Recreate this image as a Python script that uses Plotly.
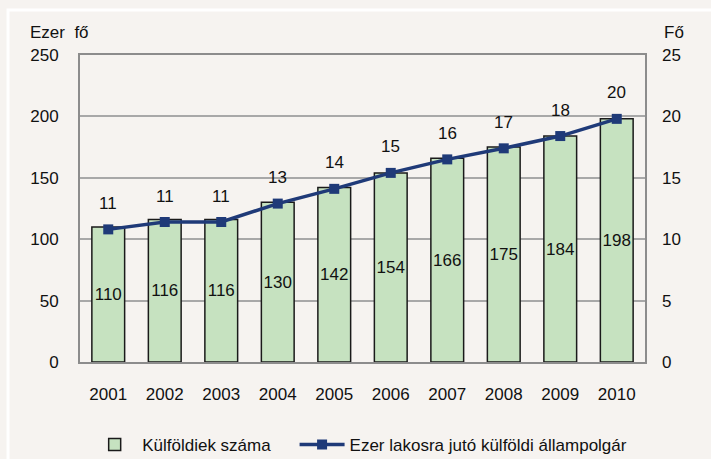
import plotly.graph_objects as go

years = ["2001", "2002", "2003", "2004", "2005", "2006", "2007", "2008", "2009", "2010"]
foreigners = [110, 116, 116, 130, 142, 154, 166, 175, 184, 198]
per_thousand = [10.8, 11.4, 11.4, 12.9, 14.1, 15.4, 16.5, 17.4, 18.4, 19.8]
per_thousand_labels = ["11", "11", "11", "13", "14", "15", "16", "17", "18", "20"]
left_ticks = [0, 50, 100, 150, 200, 250]
right_ticks = [0, 5, 10, 15, 20, 25]

FONT = "Liberation Sans, Arial, sans-serif"
FS = 17
BG = "#f6f3f0"

fig = go.Figure()
fig.add_trace(go.Bar(
    x=years, y=foreigners, name="Külföldiek száma\u00a0\u00a0\u00a0\u00a0",
    marker=dict(color="#c6e2c0", line=dict(color="#1a1a1a", width=1.5)),
    text=[str(v) for v in foreigners], textposition="inside", textangle=0,
    insidetextanchor="middle", constraintext="none",
    textfont=dict(family=FONT, size=FS, color="#111111"),
    yaxis="y",
))
fig.add_trace(go.Scatter(
    x=years, y=per_thousand, name="Ezer lakosra jutó külföldi állampolgár",
    mode="lines+markers",
    line=dict(color="#1f3a78", width=3.5),
    marker=dict(symbol="square", size=10, color="#1f3a78"),
    yaxis="y2",
))

annotations = []
# category axis: annotation x uses the category's serial number
for i, (y, t) in enumerate(zip(per_thousand, per_thousand_labels)):
    annotations.append(dict(x=i, y=y, xref="x", yref="y2", text=t, showarrow=False,
                            yshift=26, font=dict(family=FONT, size=FS, color="#111111")))
annotations.append(dict(x=-0.092, y=1.072, xref="paper", yref="paper", text="Ezer  fő",
                        showarrow=False, xanchor="left", yanchor="middle",
                        font=dict(family=FONT, size=FS, color="#111111")))
annotations.append(dict(x=1.030, y=1.072, xref="paper", yref="paper", text="Fő",
                        showarrow=False, xanchor="left", yanchor="middle",
                        font=dict(family=FONT, size=FS, color="#111111")))

fig.update_layout(
    width=711, height=459,
    margin=dict(l=80, r=66, t=55, b=97),
    paper_bgcolor=BG, plot_bgcolor=BG,
    font=dict(family=FONT, size=FS, color="#111111"),
    bargap=0.42,
    showlegend=True,
    legend=dict(orientation="h", x=0.495, xanchor="center", yref="container",
                y=1 - 445 / 459, yanchor="middle",
                bgcolor="rgba(0,0,0,0)", font=dict(family=FONT, size=FS),
                itemwidth=45, traceorder="normal"),
    xaxis=dict(type="category", range=[-0.5, len(years) - 0.5], showgrid=False, showline=True,
               linecolor="#8c8c8c", linewidth=2, mirror=True,
               ticks="", ticklabelstandoff=16, tickfont=dict(family=FONT, size=FS)),
    yaxis=dict(range=[0, 250], tickvals=left_ticks, showgrid=True, gridcolor="#a8a8a8",
               gridwidth=1.5, showline=True, linecolor="#8c8c8c", linewidth=2, mirror=True,
               ticks="", ticklabelstandoff=16, zeroline=False, tickfont=dict(family=FONT, size=FS)),
    yaxis2=dict(range=[0, 25], tickvals=right_ticks, overlaying="y", side="right",
                showgrid=False, zeroline=False, showline=False, ticks="",
                ticklabelstandoff=16, tickfont=dict(family=FONT, size=FS)),
    annotations=annotations,
    shapes=[dict(type="rect", xref="paper", yref="paper", x0=-0.1274, y0=-0.36, x1=1.14, y1=1.1466,
                 line=dict(color="white", width=3), fillcolor="rgba(0,0,0,0)", layer="below")],
)

fig.write_html("out.html", config={"displayModeBar": False},
               post_script="document.body.style.margin='0';")
